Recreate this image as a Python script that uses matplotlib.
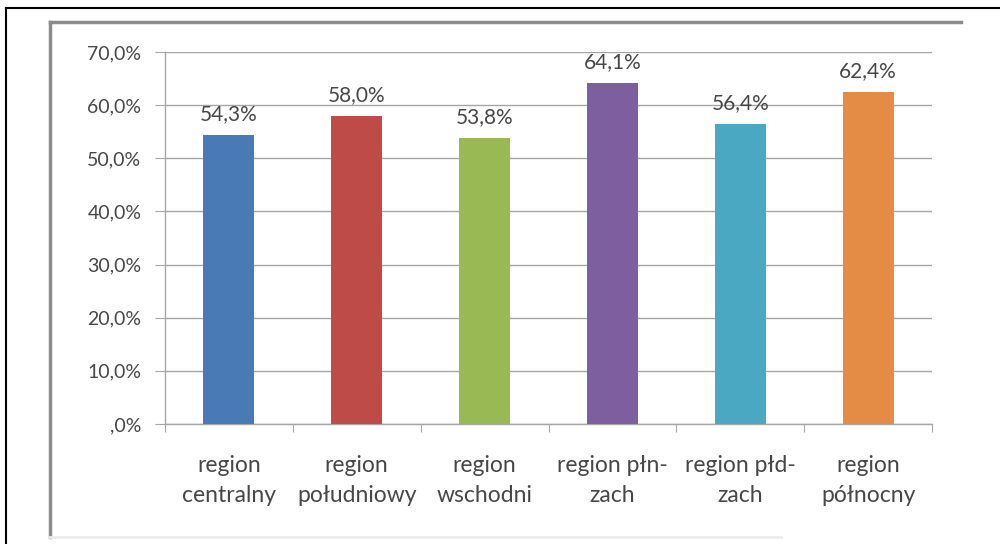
import matplotlib.pyplot as plt
from matplotlib.lines import Line2D
from matplotlib.ticker import FuncFormatter

plt.rcParams['font.family'] = ['Lato', 'DejaVu Sans']

# Data
regions = ["region\ncentralny", "region\npołudniowy", "region\nwschodni",
           "region płn-\nzach", "region płd-\nzach", "region\npółnocny"]
shares = [54.3, 58.0, 53.8, 64.1, 56.4, 62.4]
colors = ["#4a7ab5", "#be4b48", "#98b954", "#7d5fa0", "#4aa8c2", "#e48c45"]

text_color = "#474747"
grid_color = "#a6a6a6"

fig = plt.figure(figsize=(10, 5.44), dpi=100)
ax = fig.add_axes([0.165, 0.2206, 0.767, 0.6838])

x = list(range(len(regions)))
bars = ax.bar(x, shares, width=0.4, color=colors, zorder=3)

for xi, v in zip(x, shares):
    ax.annotate(f"{v:.1f}%".replace(".", ","), (xi, v), xytext=(0, 8),
                textcoords="offset points", ha="center", va="bottom",
                fontsize=15, color=text_color)

ax.set_xlim(-0.5, len(regions) - 0.5)
ax.set_ylim(0, 70)
ax.set_yticks(range(0, 71, 10))
ax.yaxis.set_major_formatter(
    FuncFormatter(lambda v, _: ",0%" if v == 0 else f"{v:.1f}%".replace(".", ",")))
ax.grid(axis="y", color=grid_color, linewidth=1, zorder=0)

# category labels sit between boundary ticks
ax.set_xticks([i - 0.5 for i in range(len(regions) + 1)])
ax.set_xticklabels([])
ax.set_xticks(x, minor=True)
ax.set_xticklabels(regions, minor=True, fontsize=16.5, color=text_color, linespacing=1.55)
ax.tick_params(axis="x", which="major", length=6, color=grid_color, direction="out")
ax.tick_params(axis="x", which="minor", length=0, pad=22)
ax.tick_params(axis="y", length=7, color=grid_color, labelsize=14,
               labelcolor=text_color, pad=10)

for side in ["top", "right"]:
    ax.spines[side].set_visible(False)
for side in ["left", "bottom"]:
    ax.spines[side].set_color(grid_color)
    ax.spines[side].set_linewidth(1)

# outer page frame
fig.add_artist(Line2D([0.006, 0.006], [0, 1 - 8 / 544], color="black", lw=1.5,
                      transform=fig.transFigure))
fig.add_artist(Line2D([0.006, 1.0], [1 - 8 / 544, 1 - 8 / 544], color="black", lw=1.5,
                      transform=fig.transFigure))

# chart area frame
x0, x1 = 0.050, 0.961
y0, y1 = 1 - 537 / 544, 1 - 22 / 544
fig.add_artist(Line2D([x0, x0], [y0, y1], color="#8c8c8c", lw=2.5,
                      transform=fig.transFigure))
fig.add_artist(Line2D([x0, x1], [y1, y1], color="#8c8c8c", lw=2.5,
                      transform=fig.transFigure))
fig.add_artist(Line2D([x0, x1 - 0.18], [y0, y0], color="#ececec", lw=2,
                      transform=fig.transFigure))

fig.savefig("out.png", dpi=100)
